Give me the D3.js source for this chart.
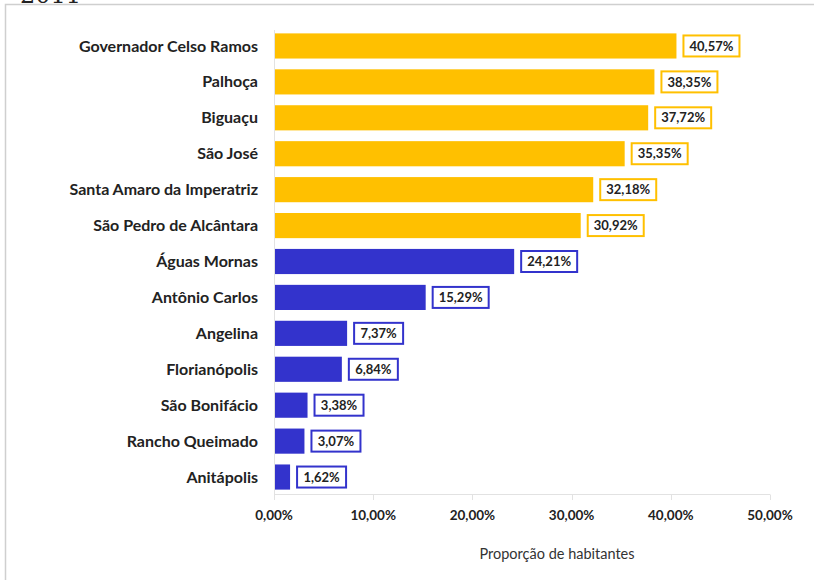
<!DOCTYPE html>
<html>
<head>
<meta charset="utf-8">
<script src="https://cdn.jsdelivr.net/npm/d3@7"></script>
<style>
  html, body { margin: 0; padding: 0; background: #fff; }
  svg { display: block; }
</style>
</head>
<body>
<svg id="chart" width="814" height="580"></svg>
<script>
// Municípios e proporção de habitantes (%)
const municipios = [
  "Governador Celso Ramos", "Palhoça", "Biguaçu", "São José",
  "Santa Amaro da Imperatriz", "São Pedro de Alcântara", "Águas Mornas",
  "Antônio Carlos", "Angelina", "Florianópolis", "São Bonifácio",
  "Rancho Queimado", "Anitápolis"
];
const proporcao = [40.57, 38.35, 37.72, 35.35, 32.18, 30.92, 24.21, 15.29, 7.37, 6.84, 3.38, 3.07, 1.62];
const grupo = ["alto", "alto", "alto", "alto", "alto", "alto", "baixo", "baixo", "baixo", "baixo", "baixo", "baixo", "baixo"];
const ticks = [0, 10, 20, 30, 40, 50];

const cores = { alto: "#FFC000", baixo: "#3333CC" };
const fmt = v => v.toFixed(2).replace(".", ",") + "%";
const FONT = "Lato, 'Open Sans', sans-serif";

const svg = d3.select("#chart");

// título cortado no topo
svg.append("text")
  .attr("x", 20).attr("y", 3)
  .attr("font-family", "'DejaVu Serif', serif")
  .attr("font-size", 24)
  .attr("fill", "#222")
  .text("2011");

// moldura
svg.append("rect")
  .attr("x", 5.5).attr("y", 4.5)
  .attr("width", 830).attr("height", 600)
  .attr("fill", "#fff")
  .attr("stroke", "#cfcfcf").attr("stroke-width", 1.5);

const x = d3.scaleLinear().domain([0, 50]).range([274, 770]);
const y = d3.scaleBand().domain(municipios).range([28, 495]).paddingInner(0.3).paddingOuter(0.15);

// linha base e marcas de escala
svg.append("line")
  .attr("x1", x(0)).attr("x2", x(50))
  .attr("y1", 494.5).attr("y2", 494.5)
  .attr("stroke", "#e2e2e2");
svg.selectAll("line.tick").data(ticks).join("line")
  .attr("class", "tick")
  .attr("x1", d => Math.round(x(d)) + 0.5).attr("x2", d => Math.round(x(d)) + 0.5)
  .attr("y1", 494.5).attr("y2", 500)
  .attr("stroke", "#e2e2e2");
svg.append("line")
  .attr("x1", x(0) + 0.5).attr("x2", x(0) + 0.5)
  .attr("y1", 30).attr("y2", 500)
  .attr("stroke", "#e2e2e2");

const dados = municipios.map((m, i) => ({ m, v: proporcao[i], g: grupo[i] }));

// barras
svg.selectAll("rect.bar").data(dados).join("rect")
  .attr("class", "bar")
  .attr("x", x(0) + 1)
  .attr("y", d => y(d.m))
  .attr("width", d => x(d.v) - x(0) - 1)
  .attr("height", y.bandwidth())
  .attr("fill", d => cores[d.g]);

// rótulos das categorias
svg.selectAll("text.cat").data(dados).join("text")
  .attr("class", "cat")
  .attr("x", 258)
  .attr("y", d => y(d.m) + y.bandwidth() / 2)
  .attr("dy", "0.35em")
  .attr("text-anchor", "end")
  .attr("font-family", FONT)
  .attr("font-weight", "bold")
  .attr("font-size", 16)
  .attr("fill", "#222")
  .text(d => d.m);

// caixas de valores
const lab = svg.selectAll("g.lab").data(dados).join("g")
  .attr("class", "lab")
  .attr("transform", d => `translate(${x(d.v) + 7},${y(d.m) + y.bandwidth() / 2})`);
lab.append("rect")
  .attr("x", 0).attr("y", -10.5)
  .attr("width", d => d.v < 10 ? 49 : 56)
  .attr("height", 21)
  .attr("fill", "#fff")
  .attr("stroke", d => cores[d.g])
  .attr("stroke-width", 2);
lab.append("text")
  .attr("x", d => (d.v < 10 ? 49 : 56) / 2)
  .attr("y", 0)
  .attr("dy", "0.36em")
  .attr("text-anchor", "middle")
  .attr("font-family", FONT)
  .attr("font-weight", "bold")
  .attr("font-size", 13)
  .attr("fill", "#222")
  .text(d => fmt(d.v));

// rótulos do eixo
svg.selectAll("text.tk").data(ticks).join("text")
  .attr("class", "tk")
  .attr("x", d => x(d))
  .attr("y", 520)
  .attr("text-anchor", "middle")
  .attr("font-family", FONT)
  .attr("font-weight", "bold")
  .attr("font-size", 13.5)
  .attr("fill", "#222")
  .text(d => fmt(d));

svg.append("text")
  .attr("x", 557).attr("y", 559)
  .attr("text-anchor", "middle")
  .attr("font-family", FONT)
  .attr("font-size", 14.5)
  .attr("fill", "#333")
  .text("Proporção de habitantes");
</script>
</body>
</html>
